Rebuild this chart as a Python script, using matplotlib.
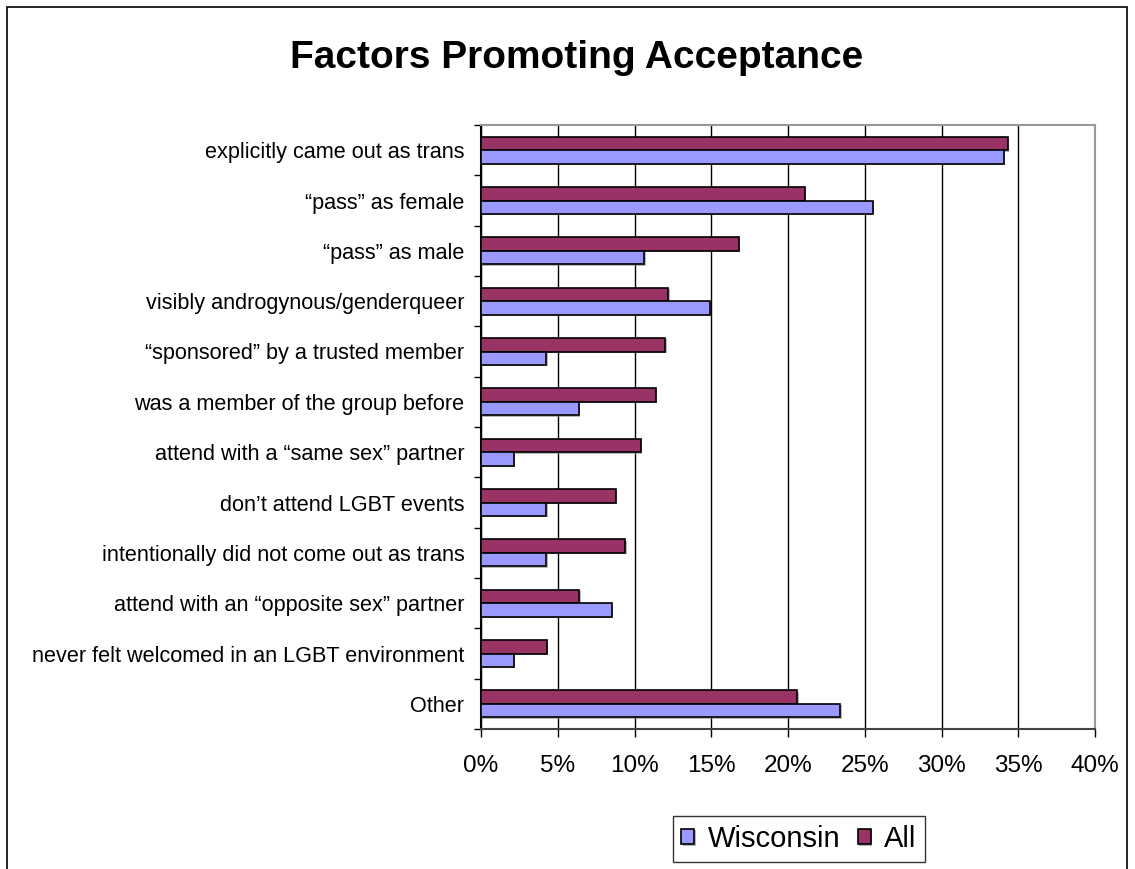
import numpy as np
import matplotlib.pyplot as plt
import matplotlib.patheffects as pe
from matplotlib.patches import Rectangle
from matplotlib.ticker import FuncFormatter, MultipleLocator

plt.rcParams['font.family'] = ['Liberation Sans', 'DejaVu Sans']

# categories, top to bottom
categories = [
    'explicitly came out as trans',
    '\u201cpass\u201d as female',
    '\u201cpass\u201d as male',
    'visibly androgynous/genderqueer',
    '\u201csponsored\u201d by a trusted member',
    'was a member of the group before',
    'attend with a \u201csame sex\u201d partner',
    'don\u2019t attend LGBT events',
    'intentionally did not come out as trans',
    'attend with an \u201copposite sex\u201d partner',
    'never felt welcomed in an LGBT environment',
    'Other',
]
# percent of respondents
wisconsin = [34.04, 25.53, 10.64, 14.89, 4.26, 6.38, 2.13, 4.26, 4.26, 8.51, 2.13, 23.40]
all_resp = [34.3, 21.1, 16.8, 12.2, 12.0, 11.4, 10.4, 8.8, 9.4, 6.4, 4.3, 20.6]

wis_color = '#9999FF'
all_color = '#993366'

W, H = 1135, 869
fig = plt.figure(figsize=(W / 100, H / 100), dpi=100)
ax = fig.add_axes([481 / W, 1 - 729 / H, (1095 - 481) / W, (729 - 125) / H])

y = np.arange(len(categories))
h = 0.27
shadow = [pe.SimplePatchShadow(offset=(1, -1), shadow_rgbFace='#888888', alpha=0.6), pe.Normal()]
b1 = ax.barh(y - h / 2, all_resp, height=h, color=all_color, edgecolor='black', linewidth=1.2,
             label='All', zorder=3)
b2 = ax.barh(y + h / 2, wisconsin, height=h, color=wis_color, edgecolor='black', linewidth=1.2,
             label='Wisconsin', zorder=3)
for bar in list(b1) + list(b2):
    bar.set_path_effects(shadow)

ax.set_ylim(len(categories) - 0.5, -0.5)
ax.set_xlim(0, 40)
ax.xaxis.set_major_locator(MultipleLocator(5))
ax.xaxis.set_major_formatter(FuncFormatter(lambda v, p: f'{v:.0f}%'))
ax.grid(axis='x', color='black', linewidth=1, zorder=0)

ax.set_yticks(y)
ax.set_yticklabels(categories, fontsize=15.6)
ax.set_yticks(np.arange(len(categories) + 1) - 0.5, minor=True)
ax.tick_params(axis='y', which='major', length=0, pad=12)
ax.tick_params(axis='y', which='minor', length=5, width=1, direction='out')
ax.tick_params(axis='x', length=6, width=1, direction='out', labelsize=17.5, pad=13)

for side in ('top', 'right'):
    ax.spines[side].set_color('#999999')
    ax.spines[side].set_linewidth(1.5)
ax.spines['left'].set_linewidth(1.5)
ax.spines['bottom'].set_color('#444444')
ax.spines['bottom'].set_linewidth(1.5)

fig.text(577 / W, 1 - 68 / H, 'Factors Promoting Acceptance', ha='center', va='baseline',
         fontsize=28, fontweight='bold')

handles, labels = ax.get_legend_handles_labels()
leg = fig.legend(handles[::-1], labels[::-1], loc='center right', bbox_to_anchor=(925 / W, 1 - 839 / H),
                 ncol=2, fontsize=21, frameon=True, fancybox=False, edgecolor='black',
                 handlelength=0.45, handleheight=0.45, handletextpad=0.45, columnspacing=0.6,
                 borderpad=0.3, borderaxespad=0)
leg.get_frame().set_linewidth(1)

# outer chart frame
fig.patches.append(Rectangle((7 / W, -0.05), (1127 - 7) / W, 1.05 - 7 / H, transform=fig.transFigure,
                             fill=False, edgecolor='black', linewidth=1.2))

fig.savefig('out.png', dpi=100)
